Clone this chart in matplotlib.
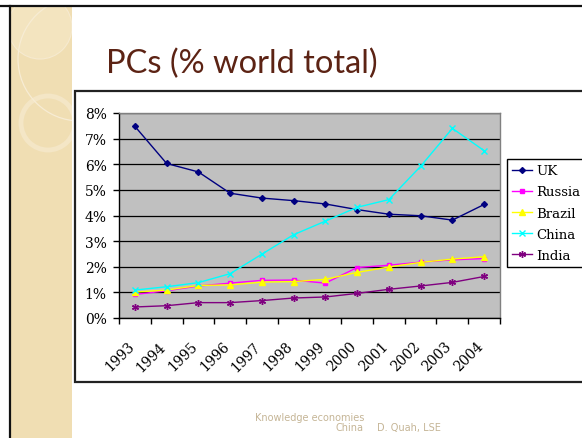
import matplotlib
matplotlib.use('Agg')
import matplotlib.pyplot as plt
import matplotlib.patches as mpatches
import matplotlib.transforms as mtransforms
from matplotlib.lines import Line2D
import numpy as np

years = ['1993', '1994', '1995', '1996', '1997', '1998', '1999', '2000',
         '2001', '2002', '2003', '2004']
uk = [7.48, 6.03, 5.70, 4.87, 4.68, 4.58, 4.45, 4.23, 4.05, 3.99, 3.82, 4.43]
russia = [0.92, 1.06, 1.25, 1.36, 1.47, 1.48, 1.36, 1.97, 2.06, 2.18, 2.27, 2.32]
brazil = [1.01, 1.09, 1.27, 1.29, 1.40, 1.42, 1.51, 1.78, 1.99, 2.17, 2.30, 2.39]
china = [1.09, 1.22, 1.38, 1.73, 2.49, 3.25, 3.78, 4.32, 4.62, 5.92, 7.40, 6.53]
india = [0.43, 0.48, 0.60, 0.60, 0.68, 0.78, 0.82, 0.96, 1.12, 1.25, 1.39, 1.62]
y_ticks = [0, 1, 2, 3, 4, 5, 6, 7, 8]
y_labels = ['0%', '1%', '2%', '3%', '4%', '5%', '6%', '7%', '8%']
series_names = ['UK', 'Russia', 'Brazil', 'China', 'India']

W, H = 582, 439
fig = plt.figure(figsize=(W / 100, H / 100), dpi=100)
fig.patch.set_facecolor('white')

def fx(x):
    return x / W

def fy(y):
    return 1 - y / H

# beige side panel
beige = mpatches.Rectangle((fx(10), 0), fx(72) - fx(10), fy(8), transform=fig.transFigure,
                           facecolor='#f0deb3', edgecolor='none', zorder=-10)
fig.patches.append(beige)
# decorative circles (subtle)
c1 = mpatches.Ellipse((fx(40), fy(28)), 2 * 32 / W, 2 * 32 / H, transform=fig.transFigure,
                      facecolor='#f3e4bf', edgecolor='#f6ead0', lw=0.8, zorder=-9)
c2 = mpatches.Ellipse((fx(48), fy(124)), 2 * 27 / W, 2 * 27 / H, transform=fig.transFigure,
                      facecolor='none', edgecolor='#f4e6c6', lw=3.5, zorder=-9)
c3 = mpatches.Ellipse((fx(80), fy(60)), 2 * 62 / W, 2 * 62 / H, transform=fig.transFigure,
                      facecolor='none', edgecolor='#f7ecd4', lw=0.9, zorder=-9)
for c in (c1, c2, c3):
    fig.patches.append(c)
    c.set_clip_path(beige)

# slide frame lines
fig.lines.append(Line2D([0, 1], [fy(7), fy(7)], transform=fig.transFigure,
                        color='#111111', lw=1.6, zorder=-8))
fig.lines.append(Line2D([fx(9.5), fx(9.5)], [0, fy(7)], transform=fig.transFigure,
                        color='#111111', lw=1.6, zorder=-8))

# chart box
box = mpatches.Rectangle((fx(75), fy(383)), 1.2, fy(92) - fy(383), transform=fig.transFigure,
                         facecolor='white', edgecolor='#222222', lw=1.6, zorder=-7)
fig.patches.append(box)

# title
fig.text(fx(106), fy(73), 'PCs (% world total)', fontsize=23.5, color='#5c2314',
         family='Lato', va='baseline', ha='left')

# footer
fig.text(fx(364), fy(421), 'Knowledge economies', ha='right', va='baseline',
         fontsize=7, color='#c5b596', family='DejaVu Sans')
fig.text(fx(364), fy(431), 'China', ha='right', va='baseline',
         fontsize=7, color='#c5b596', family='DejaVu Sans')
fig.text(fx(377), fy(431), 'D. Quah, LSE', ha='left', va='baseline',
         fontsize=7, color='#c5b596', family='DejaVu Sans')

# axes
ax = fig.add_axes([fx(119), fy(319), fx(500) - fx(119), fy(114) - fy(319)])
ax.set_facecolor('#c0c0c0')
x = np.arange(len(years))

styles = [
    (uk, '#000080', 'D', 3.0),
    (russia, '#ff00ff', 's', 3.5),
    (brazil, '#ffff00', '^', 4.0),
    (china, '#00ffff', 'x', 4.5),
    (india, '#800080', (6, 2, 0), 5.0),
]
handles = []
for (vals, col, mk, ms), name in zip(styles, series_names):
    ln, = ax.plot(x, vals, color=col, lw=1.0, marker=mk, markersize=ms,
                  markerfacecolor=col, markeredgecolor=col, markeredgewidth=1.0,
                  label=name, zorder=3)
    handles.append(ln)

ax.set_xlim(-0.5, len(years) - 0.5)
ax.set_ylim(0, 8)
ax.set_yticks(y_ticks)
ax.set_yticklabels(y_labels, family='DejaVu Serif', fontsize=10)
ax.yaxis.grid(True, color='black', lw=0.9)
ax.set_axisbelow(True)

ax.set_xticks(np.arange(-0.5, len(years), 1))
ax.set_xticklabels([])
ax.set_xticks(x, minor=True)
ax.set_xticklabels(years, minor=True, family='DejaVu Serif', fontsize=10,
                   rotation=45, ha='right', va='top', rotation_mode='anchor')
ax.tick_params(axis='x', which='minor', length=0, pad=15)
ax.tick_params(axis='x', which='major', length=4, width=1, color='black', direction='out')
ax.tick_params(axis='y', length=4, width=1, color='black', direction='out', pad=5)
offset = mtransforms.ScaledTranslation(-8 / 100, 0, fig.dpi_scale_trans)
for lbl in ax.get_xticklabels(minor=True):
    lbl.set_transform(lbl.get_transform() + offset)

for s in ('top', 'right'):
    ax.spines[s].set_color('#808080')
    ax.spines[s].set_linewidth(1.0)
for s in ('left', 'bottom'):
    ax.spines[s].set_color('black')
    ax.spines[s].set_linewidth(1.0)

leg = fig.legend(handles, series_names, loc='upper left',
                 bbox_to_anchor=(fx(507), fy(160)), bbox_transform=fig.transFigure,
                 frameon=True, fancybox=False, edgecolor='black', framealpha=1,
                 borderaxespad=0, borderpad=0.4, handlelength=1.5, handletextpad=0.3,
                 labelspacing=0.62, prop={'family': 'DejaVu Serif', 'size': 9.5})
leg.get_frame().set_linewidth(1.0)

fig.savefig('out.png', dpi=100, facecolor='white')
